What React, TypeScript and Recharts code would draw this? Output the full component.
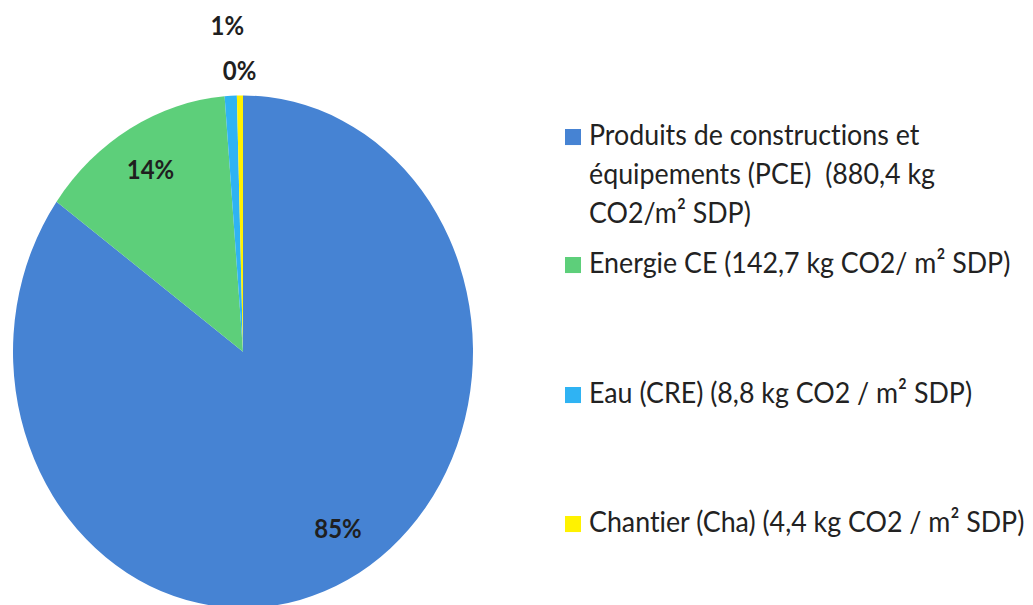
import React from "react";
import { PieChart, Pie, Cell, Legend } from "recharts";

const categories = [
  "Produits de constructions et équipements (PCE)  (880,4 kg CO2/m² SDP)",
  "Energie CE (142,7 kg CO2/ m² SDP)",
  "Eau (CRE) (8,8 kg CO2 / m² SDP)",
  "Chantier (Cha) (4,4 kg CO2 / m² SDP)",
];
const legendLines = [
  ["Produits de constructions et", "équipements (PCE)  (880,4 kg", "CO2/m² SDP)"],
  ["Energie CE (142,7 kg CO2/ m² SDP)"],
  ["Eau (CRE) (8,8 kg CO2 / m² SDP)"],
  ["Chantier (Cha) (4,4 kg CO2 / m² SDP)"],
];
const values = [880.4, 142.7, 8.8, 4.4];
const colors = ["#4683D3", "#5DCF7A", "#2FB3F3", "#FFF200"];

// style: radial position of each percentage label (fraction of radius) and angular nudge (deg)
const labelRadiusFactor = [0.8, 0.82, 1.28, 1.1];
const labelAngleShift = [4, 0, 0, 0];
// style: legend item baselines
const legendBaselines = [130.2, 245.1, 361.8, 477.6];

const data = categories.map((name, i) => ({ name, value: values[i] }));

const RAD = Math.PI / 180;
const FONT = "Lato, 'Noto Sans', sans-serif";
const SCALE_Y = 1.114;

const renderLabel = (props: any) => {
  const { cx, cy, midAngle, outerRadius, percent, index } = props;
  const r = outerRadius * labelRadiusFactor[index];
  const a = (midAngle + labelAngleShift[index]) * RAD;
  const x = cx + r * Math.cos(-a);
  const y = cy + r * Math.sin(-a);
  return (
    <text
      x={x}
      y={y}
      textAnchor="middle"
      dominantBaseline="central"
      fontFamily={FONT}
      fontWeight="bold"
      fontSize={24}
      fill="#1f1f1f"
    >
      {Math.round(percent * 100)}%
    </text>
  );
};

const renderLegend = () => (
  <svg width={473} height={543}>
    {legendLines.map((lines, i) => (
      <g key={i}>
        <rect x={5} y={legendBaselines[i] - 14.4} width={16} height={14.4} fill={colors[i]} />
        {lines.map((t, k) => (
          <text
            key={k}
            x={29}
            y={legendBaselines[i] + k * 35}
            fontFamily={FONT}
            fontSize={26.8}
            fill="#222"
            style={{ whiteSpace: "pre", fontVariantLigatures: "none" }}
          >
            {t}
          </text>
        ))}
      </g>
    ))}
  </svg>
);

export default function App() {
  return (
    <div
      style={{
        position: "absolute",
        left: 0,
        top: 0,
        width: 1033,
        height: 543,
        transform: `scaleY(${SCALE_Y})`,
        transformOrigin: "0 0",
        background: "#fff",
      }}
    >
      <PieChart width={1033} height={543} margin={{ top: 0, right: 0, bottom: 0, left: 0 }}>
        <Pie
          data={data}
          dataKey="value"
          nameKey="name"
          cx={243}
          cy={315.7}
          outerRadius={230}
          startAngle={90}
          endAngle={-270}
          stroke="none"
          label={renderLabel}
          labelLine={false}
          isAnimationActive={false}
        >
          {data.map((d, i) => (
            <Cell key={d.name} fill={colors[i]} />
          ))}
        </Pie>
        <Legend
          layout="vertical"
          align="right"
          verticalAlign="top"
          content={renderLegend}
          wrapperStyle={{ left: 560, top: 0, width: 473, height: 543 }}
        />
      </PieChart>
    </div>
  );
}
